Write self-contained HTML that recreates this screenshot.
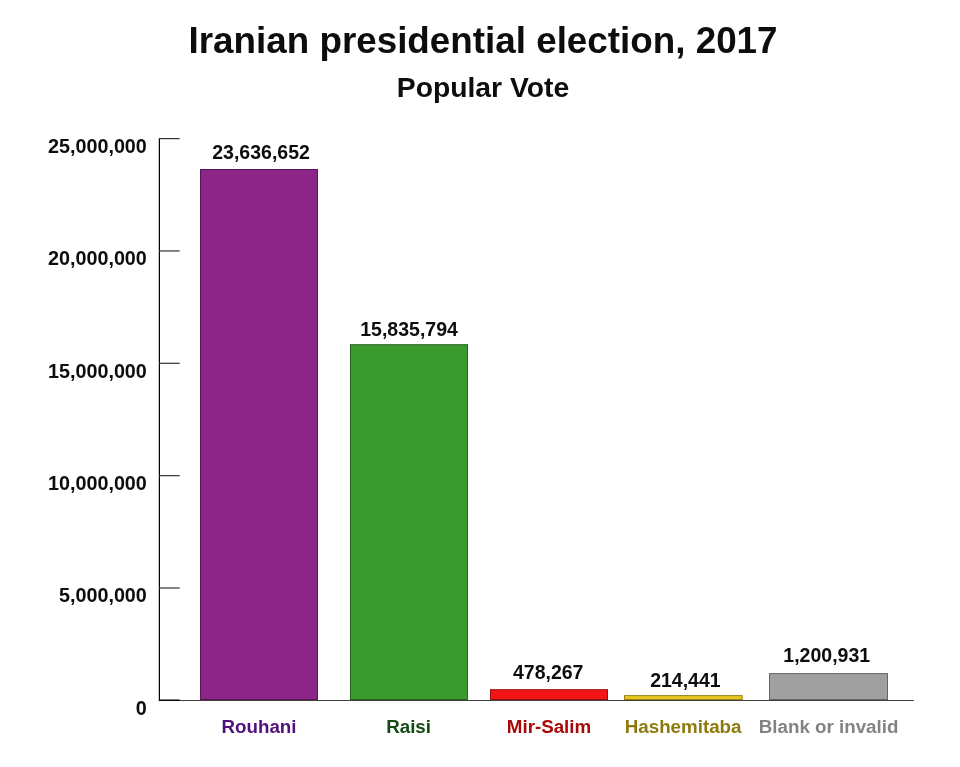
<!DOCTYPE html>
<html>
<head>
<meta charset="utf-8">
<style>
html,body{margin:0;padding:0;background:#fff;}
body{width:960px;height:767px;overflow:hidden;}
svg{display:block;will-change:transform;}
text{font-family:"Liberation Sans",Arial,sans-serif;font-weight:bold;}
</style>
</head>
<body>
<svg width="960" height="767" viewBox="0 0 960 767">
<rect x="0" y="0" width="960" height="767" fill="#fff"/>
<text x="483.05" y="52.9" font-size="36.8" text-anchor="middle" fill="#0d0d0d">Iranian presidential election, 2017</text>
<text x="483.0" y="97.1" font-size="28.3" text-anchor="middle" fill="#0d0d0d">Popular Vote</text>
<rect x="200.00" y="169.00" width="118.00" height="531.20" fill="#8b2588"/>
<rect x="200.50" y="169.50" width="117.00" height="530.00" fill="none" stroke="#000" stroke-opacity="0.36" stroke-width="1"/>
<rect x="350.00" y="344.20" width="118.00" height="356.00" fill="#3b9a2e"/>
<rect x="350.50" y="344.70" width="117.00" height="354.80" fill="none" stroke="#000" stroke-opacity="0.36" stroke-width="1"/>
<rect x="490.00" y="689.20" width="118.00" height="11.00" fill="#f21616"/>
<rect x="490.50" y="689.70" width="117.00" height="9.80" fill="none" stroke="#000" stroke-opacity="0.36" stroke-width="1"/>
<rect x="624.00" y="695.10" width="118.60" height="5.10" fill="#e8c81e"/>
<rect x="624.50" y="695.60" width="117.60" height="3.90" fill="none" stroke="#000" stroke-opacity="0.36" stroke-width="1"/>
<rect x="769.00" y="673.10" width="119.00" height="27.10" fill="#a0a0a0"/>
<rect x="769.50" y="673.60" width="118.00" height="25.90" fill="none" stroke="#000" stroke-opacity="0.36" stroke-width="1"/>
<line x1="159.4" y1="138" x2="159.4" y2="700.9" stroke="#000" stroke-width="1.2"/>
<line x1="158.8" y1="700.45" x2="913.8" y2="700.45" stroke="#404040" stroke-width="1.1"/>
<line x1="159" y1="700.2" x2="179.7" y2="700.2" stroke="#000" stroke-width="1.4"/>
<g stroke="#333" stroke-width="1.2">
<line x1="159" y1="138.60" x2="179.7" y2="138.60"/>
<line x1="159" y1="250.95" x2="179.7" y2="250.95"/>
<line x1="159" y1="363.30" x2="179.7" y2="363.30"/>
<line x1="159" y1="475.65" x2="179.7" y2="475.65"/>
<line x1="159" y1="588.00" x2="179.7" y2="588.00"/>
</g>
<g font-size="19.75" text-anchor="end" fill="#0d0d0d">
<text x="146.85" y="152.80">25,000,000</text>
<text x="146.85" y="265.15">20,000,000</text>
<text x="146.85" y="377.50">15,000,000</text>
<text x="146.85" y="489.85">10,000,000</text>
<text x="146.85" y="602.20">5,000,000</text>
<text x="146.85" y="714.55">0</text>
</g>
<g font-size="19.5" text-anchor="middle" fill="#0d0d0d">
<text x="261.05" y="158.6">23,636,652</text>
<text x="409.05" y="335.9">15,835,794</text>
<text x="548.2" y="678.8">478,267</text>
<text x="685.4" y="686.5">214,441</text>
<text x="826.75" y="661.8">1,200,931</text>
</g>
<g font-size="18.75" text-anchor="middle">
<text x="259" y="732.7" fill="#52107a">Rouhani</text>
<text x="408.6" y="732.7" fill="#124a12">Raisi</text>
<text x="549" y="732.7" fill="#a80808">Mir-Salim</text>
<text x="683.1" y="732.7" fill="#8e7a0c">Hashemitaba</text>
<text x="828.6" y="732.7" fill="#838383">Blank or invalid</text>
</g>
</svg>
</body>
</html>
